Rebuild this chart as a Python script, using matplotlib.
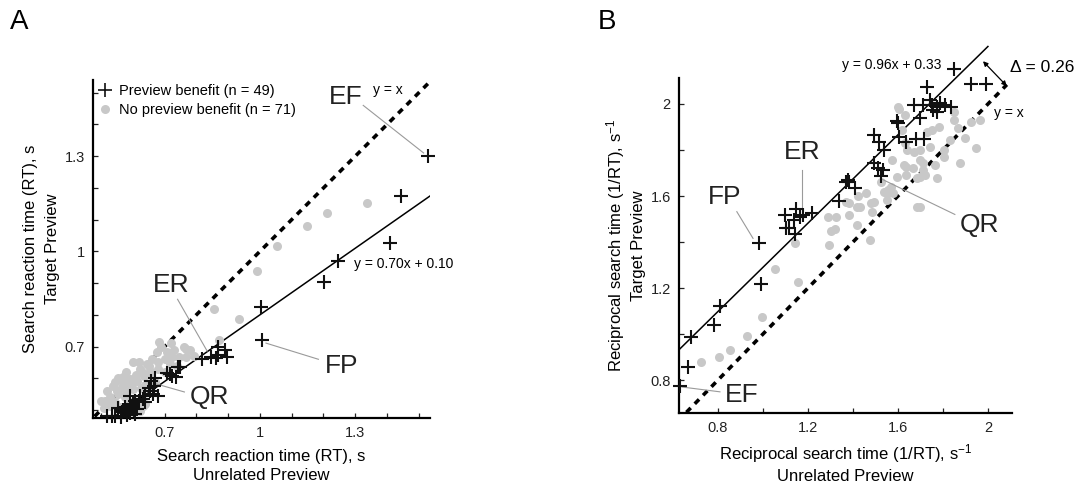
import matplotlib
matplotlib.use("Agg")
import matplotlib.pyplot as plt
from matplotlib.lines import Line2D
from matplotlib.ticker import FixedLocator, MultipleLocator, FuncFormatter

plt.rcParams['font.family'] = ['Liberation Sans', 'DejaVu Sans']
plt.rcParams['mathtext.fontset'] = 'custom'
plt.rcParams['mathtext.rm'] = 'Liberation Sans'
plt.rcParams['mathtext.it'] = 'Liberation Sans:italic'

# ---- Panel A: reaction times (s) ----
a_benefit = [
    (1.528, 1.300), (1.444, 1.176), (1.410, 1.025), (1.247, 0.969), (1.203, 0.902),
    (1.003, 0.824), (1.006, 0.720), (0.869, 0.698), (0.890, 0.689), (0.897, 0.667),
    (0.862, 0.663), (0.847, 0.667), (0.819, 0.660), (0.869, 0.675), (0.750, 0.635),
    (0.725, 0.607), (0.709, 0.616), (0.737, 0.604), (0.659, 0.591), (0.666, 0.575),
    (0.653, 0.560), (0.663, 0.550), (0.678, 0.544), (0.631, 0.535), (0.622, 0.544),
    (0.590, 0.544), (0.606, 0.528), (0.637, 0.525), (0.597, 0.512), (0.575, 0.509),
    (0.584, 0.497), (0.566, 0.493), (0.553, 0.506), (0.581, 0.484), (0.590, 0.490),
    (0.544, 0.481), (0.519, 0.481), (0.534, 0.481), (0.612, 0.503), (0.562, 0.478),
    (0.600, 0.520), (0.650, 0.570), (0.670, 0.600), (0.716, 0.613), (0.741, 0.635),
    (0.620, 0.530), (0.570, 0.500), (0.640, 0.545), (0.608, 0.487),
]
a_none = [
    (1.338, 1.151), (1.210, 1.120), (1.147, 1.079), (1.053, 1.016), (0.990, 0.937),
    (0.934, 0.786), (0.856, 0.820), (0.870, 0.720), (0.684, 0.714), (0.709, 0.682),
    (0.769, 0.692), (0.769, 0.667), (0.747, 0.667), (0.675, 0.682), (0.600, 0.651),
    (0.700, 0.660), (0.678, 0.651), (0.716, 0.645), (0.622, 0.629), (0.653, 0.623),
    (0.569, 0.604), (0.590, 0.598), (0.612, 0.591), (0.634, 0.607), (0.519, 0.560),
    (0.537, 0.575), (0.566, 0.572), (0.553, 0.550), (0.512, 0.528), (0.528, 0.512),
    (0.631, 0.512), (0.600, 0.503), (0.622, 0.497), (0.794, 0.670), (0.725, 0.667),
    (0.644, 0.644), (0.659, 0.610), (0.588, 0.575), (0.544, 0.590), (0.600, 0.566),
    (0.625, 0.570), (0.575, 0.540), (0.590, 0.525), (0.545, 0.525), (0.510, 0.505),
    (0.560, 0.510), (0.680, 0.630), (0.700, 0.620), (0.740, 0.640), (0.760, 0.700),
    (0.660, 0.660), (0.620, 0.650), (0.640, 0.580), (0.610, 0.610), (0.580, 0.620),
    (0.550, 0.560), (0.530, 0.540), (0.570, 0.590), (0.730, 0.690), (0.720, 0.710),
    (0.690, 0.700), (0.650, 0.640), (0.630, 0.620), (0.520, 0.520), (0.500, 0.530),
    (0.780, 0.690), (0.670, 0.590), (0.600, 0.590), (0.555, 0.600), (0.580, 0.555),
    (0.640, 0.520),
]
a_fit = (0.70, 0.10)

# ---- Panel B: reciprocal RT (1/s) ----
b_benefit = [
    (0.633, 0.775), (0.669, 0.857), (0.682, 0.987), (0.782, 1.039), (0.809, 1.121),
    (0.990, 1.216), (0.981, 1.398), (1.144, 1.433), (1.103, 1.463), (1.099, 1.519),
    (1.140, 1.498), (1.148, 1.545), (1.176, 1.519), (1.216, 1.528), (1.338, 1.580),
    (1.370, 1.662), (1.384, 1.662), (1.411, 1.636), (1.492, 1.745), (1.510, 1.723),
    (1.533, 1.714), (1.524, 1.688), (1.492, 1.866), (1.515, 1.836), (1.538, 1.800),
    (1.600, 1.918), (1.597, 1.925), (1.605, 1.857), (1.637, 1.836), (1.682, 1.848),
    (1.714, 1.848), (1.696, 1.939), (1.673, 1.996), (1.710, 1.996), (1.750, 1.996),
    (1.773, 1.987), (1.786, 2.004), (1.773, 1.965), (1.809, 1.996), (1.836, 1.987),
    (1.728, 2.074), (1.850, 2.152), (1.927, 2.087), (1.990, 2.087), (1.755, 1.974),
    (1.741, 2.017), (1.379, 1.671), (1.167, 1.511), (1.117, 1.459),
]
b_none = [
    (0.723, 0.879), (0.805, 0.900), (0.854, 0.931), (0.931, 0.991), (0.995, 1.074),
    (1.053, 1.281), (1.157, 1.225), (1.144, 1.398), (1.302, 1.450), (1.289, 1.511),
    (1.325, 1.511), (1.384, 1.519), (1.416, 1.476), (1.474, 1.411), (1.384, 1.571),
    (1.416, 1.554), (1.424, 1.602), (1.456, 1.615), (1.483, 1.532), (1.492, 1.576),
    (1.551, 1.615), (1.578, 1.615), (1.687, 1.554), (1.524, 1.662), (1.605, 1.978),
    (1.619, 1.887), (1.642, 1.801), (1.670, 1.792), (1.700, 1.801), (1.750, 1.887),
    (1.628, 1.736), (1.665, 1.723), (1.710, 1.745), (1.719, 1.693), (1.637, 1.693),
    (1.597, 1.684), (1.687, 1.680), (1.570, 1.641), (1.538, 1.619), (1.551, 1.584),
    (1.370, 1.576), (1.433, 1.554), (1.479, 1.571), (1.600, 1.987), (1.633, 1.952),
    (1.850, 1.965), (1.850, 1.931), (1.927, 1.922), (1.782, 1.900), (1.868, 1.896),
    (1.728, 1.879), (1.633, 1.831), (1.741, 1.814), (1.805, 1.801), (1.945, 1.810),
    (1.877, 1.745), (1.805, 1.771), (1.696, 1.758), (1.637, 1.727), (1.710, 1.714),
    (1.773, 1.680), (1.696, 1.684), (1.696, 1.554), (1.900, 1.853), (1.830, 1.844),
    (1.967, 1.931), (1.764, 1.736), (1.556, 1.628), (1.574, 1.758), (1.320, 1.455),
    (1.293, 1.385),
]
b_fit = (0.96, 0.33)

fig = plt.figure(figsize=(10.77, 4.87), dpi=100)
axA = fig.add_axes([93 / 1077, 1 - 418 / 487, 337 / 1077, 338 / 487])
axB = fig.add_axes([679 / 1077, 1 - 413 / 487, 333 / 1077, 335 / 487])

gray = '#c8c8c8'
lead = '#9a9a9a'


def style(ax, xlim, ylim, major, step):
    ax.set_xlim(*xlim)
    ax.set_ylim(*ylim)
    for s in ['top', 'right']:
        ax.spines[s].set_visible(False)
    for s in ['left', 'bottom']:
        ax.spines[s].set_linewidth(1.6)
    for axis in [ax.xaxis, ax.yaxis]:
        axis.set_major_locator(FixedLocator(major))
        axis.set_minor_locator(MultipleLocator(step))
        axis.set_major_formatter(FuncFormatter(lambda v, p: '%g' % round(v, 2)))
    ax.tick_params(which='both', direction='in', length=3.5, width=0.9,
                   labelsize=10.5, pad=6, colors='#222222')


def scatter(ax, ben, non):
    ax.plot([p[0] for p in non], [p[1] for p in non], 'o', color=gray, ms=6.5,
            mec='none', clip_on=False, zorder=2)
    ax.plot([p[0] for p in ben], [p[1] for p in ben], '+', color='#111111', ms=9.5,
            mew=1.5, clip_on=False, zorder=3)


def label(ax, txt, xy, tip, start):
    ax.text(xy[0], xy[1], txt, fontsize=19, ha='center', va='center', color='#222222')
    ax.plot([start[0], tip[0]], [start[1], tip[1]], color=lead, lw=0.8, clip_on=False)


# Panel A
style(axA, (0.475, 1.535), (0.475, 1.54), [0.7, 1.0, 1.3], 0.1)
axA.plot([0.48, 1.535], [0.48, 1.535], color='black', lw=2.6, dashes=(1.7, 1.6), zorder=1)
xs = [(0.475 - a_fit[1]) / a_fit[0], 1.535]
axA.plot(xs, [a_fit[0] * x + a_fit[1] for x in xs], color='black', lw=1.1, zorder=1)
scatter(axA, a_benefit, a_none)
label(axA, 'EF', (1.27, 1.487), (1.515, 1.31), (1.325, 1.46))
label(axA, 'ER', (0.722, 0.893), (0.834, 0.686), (0.741, 0.849))
label(axA, 'QR', (0.84, 0.541), (0.675, 0.582), (0.7625, 0.557))
label(axA, 'FP', (1.256, 0.638), (1.019, 0.711), (1.184, 0.66))
axA.text(1.355, 1.51, 'y = x', fontsize=10, va='center')
axA.text(1.297, 0.959, 'y = 0.70x + 0.10', fontsize=10, va='center')
handles = [Line2D([], [], ls='none', marker='+', color='#111111', ms=10, mew=1.2),
           Line2D([], [], ls='none', marker='o', color=gray, ms=6.5, mec='none')]
axA.legend(handles, ['Preview benefit (n = 49)', 'No preview benefit (n = 71)'],
           loc='upper left', frameon=False, fontsize=10.5, handlelength=1.0,
           handletextpad=0.5, labelspacing=0.35, borderaxespad=0.1, borderpad=0.2)
axA.set_xlabel('Search reaction time (RT), s\nUnrelated Preview', fontsize=12,
               linespacing=1.4, labelpad=6)
axA.set_ylabel('Search reaction time (RT), s\nTarget Preview', fontsize=12,
               linespacing=1.6, labelpad=3)

# Panel B
style(axB, (0.627, 2.107), (0.657, 2.113), [0.8, 1.2, 1.6, 2.0], 0.2)
axB.plot([0.66, 2.084], [0.66, 2.084], color='black', lw=2.6, dashes=(1.7, 1.6),
         zorder=1, clip_on=False)
xs = [0.627, 2.0]
axB.plot(xs, [b_fit[0] * x + b_fit[1] for x in xs], color='black', lw=1.1, zorder=1,
         clip_on=False)
scatter(axB, b_benefit, b_none)
label(axB, 'ER', (1.173, 1.79), (1.173, 1.541), (1.173, 1.714))
label(axB, 'FP', (0.831, 1.597), (0.956, 1.416), (0.884, 1.532))
label(axB, 'QR', (1.964, 1.472), (1.525, 1.675), (1.853, 1.52))
label(axB, 'EF', (0.907, 0.736), (0.64, 0.77), (0.809, 0.749))
axB.text(1.351, 2.169, 'y = 0.96x + 0.33', fontsize=10, va='center')
axB.text(2.027, 1.961, 'y = x', fontsize=10, va='center')
axB.annotate('', xy=(2.084, 2.078), xytext=(1.978, 2.186),
             arrowprops=dict(arrowstyle='<|-|>', lw=0.9, color='black',
                             mutation_scale=7, shrinkA=0, shrinkB=0),
             annotation_clip=False)
axB.text(2.10, 2.16, 'Δ = 0.26', fontsize=12.5, va='center')
axB.set_xlabel('Reciprocal search time (1/RT), s$^{-1}$\nUnrelated Preview',
               fontsize=12, linespacing=1.35, labelpad=5)
axB.set_ylabel('Reciprocal search time (1/RT), s$^{-1}$\nTarget Preview',
               fontsize=12, linespacing=1.35, labelpad=3)

fig.text(10 / 1077, 1 - 22 / 487, 'A', fontsize=20, va='center')
fig.text(598 / 1077, 1 - 22 / 487, 'B', fontsize=20, va='center')

fig.savefig('out.png', dpi=100)
